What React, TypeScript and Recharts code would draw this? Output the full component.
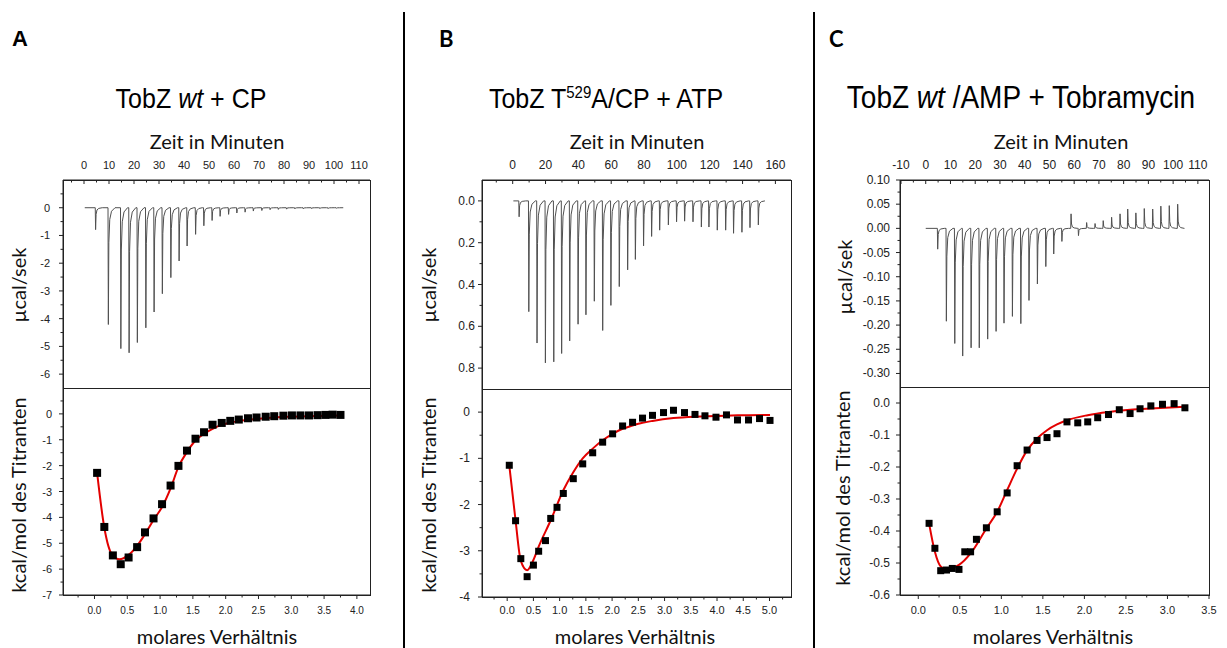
import React from "react";
import { LineChart, ComposedChart, Line, Scatter, XAxis, YAxis } from "recharts";

// ---------- Panel A: TobZ wt + CP ----------
const injTimeA = [4.5, 9.6, 14.6, 17.9, 21.2, 24.6, 27.9, 31.2, 34.6, 37.9, 41.1, 44.5, 47.8, 51.1, 54.3, 57.7, 61.0, 64.3, 67.6, 71.0, 74.3, 77.6, 80.9, 84.2, 87.6, 90.9, 94.2, 97.5, 100.8];
const injPeakA = [-0.79, -4.21, -5.08, -5.23, -4.86, -4.33, -3.76, -3.1, -2.52, -1.92, -1.38, -0.96, -0.65, -0.46, -0.31, -0.24, -0.19, -0.16, -0.12, -0.1, -0.07, -0.06, -0.05, -0.04, -0.04, -0.03, -0.03, -0.03, -0.02];
const ratioA = [0.04, 0.15, 0.28, 0.4, 0.52, 0.65, 0.77, 0.9, 1.03, 1.16, 1.28, 1.41, 1.54, 1.67, 1.8, 1.94, 2.07, 2.2, 2.34, 2.47, 2.61, 2.74, 2.88, 3.01, 3.14, 3.27, 3.4, 3.52, 3.63, 3.75];
const heatA = [-2.28, -4.37, -5.47, -5.81, -5.55, -5.15, -4.58, -4.04, -3.49, -2.77, -2.01, -1.42, -0.96, -0.71, -0.42, -0.35, -0.27, -0.22, -0.17, -0.14, -0.11, -0.09, -0.07, -0.06, -0.06, -0.06, -0.05, -0.04, -0.03, -0.04];
const fitRatioA = [0.04, 0.15, 0.27, 0.38, 0.52, 0.65, 0.77, 0.9, 1.03, 1.16, 1.28, 1.41, 1.54, 1.67, 1.8, 1.94, 2.07, 2.2, 2.47, 2.74, 3.01, 3.4, 3.75];
const fitHeatA = [-2.28, -4.4, -5.45, -5.62, -5.45, -5.1, -4.65, -4.1, -3.6, -2.88, -2.05, -1.47, -1.03, -0.77, -0.58, -0.42, -0.34, -0.28, -0.2, -0.14, -0.11, -0.08, -0.06];

// ---------- Panel B: TobZ T529A/CP + ATP ----------
const injTimeB = [3.7, 9.6, 14.6, 19.7, 24.8, 29.6, 34.5, 39.6, 44.4, 49.5, 54.6, 59.6, 64.7, 69.8, 74.5, 79.5, 84.4, 89.3, 94.6, 99.6, 104.5, 109.6, 114.7, 119.3, 124.4, 129.5, 134.3, 139.4, 144.3, 149.4];
const injPeakB = [-0.076, -0.53, -0.68, -0.775, -0.77, -0.73, -0.67, -0.59, -0.545, -0.48, -0.62, -0.5, -0.41, -0.33, -0.28, -0.215, -0.17, -0.14, -0.115, -0.1, -0.097, -0.1, -0.125, -0.125, -0.14, -0.14, -0.155, -0.15, -0.128, -0.115];
const ratioB = [0.04, 0.16, 0.26, 0.38, 0.5, 0.6, 0.73, 0.83, 0.95, 1.07, 1.26, 1.44, 1.63, 1.82, 2.01, 2.2, 2.39, 2.58, 2.77, 2.98, 3.17, 3.38, 3.58, 3.77, 3.98, 4.18, 4.39, 4.6, 4.81, 5.01];
const heatB = [-1.15, -2.35, -3.17, -3.56, -3.31, -3.01, -2.78, -2.3, -2.06, -1.76, -1.44, -1.12, -0.88, -0.65, -0.47, -0.3, -0.22, -0.13, -0.07, -0.01, 0.04, -0.01, -0.05, -0.08, -0.11, -0.06, -0.17, -0.17, -0.14, -0.18];
const fitRatioB = [0.04, 0.16, 0.26, 0.38, 0.5, 0.6, 0.83, 1.07, 1.26, 1.44, 1.63, 1.82, 2.01, 2.2, 2.39, 2.58, 2.77, 3.17, 3.58, 3.98, 4.39, 5.01];
const fitHeatB = [-1.15, -2.35, -3.22, -3.42, -3.2, -2.91, -2.34, -1.69, -1.3, -1.0, -0.79, -0.61, -0.47, -0.36, -0.29, -0.23, -0.19, -0.13, -0.1, -0.086, -0.07, -0.06];

// ---------- Panel C: TobZ wt/AMP + Tobramycin ----------
const injTimeC = [4.7, 8.2, 11.6, 14.8, 18.2, 21.5, 24.9, 28.3, 31.5, 34.9, 38.3, 41.6, 45.0, 48.4, 51.6, 54.9, 58.6, 61.6, 64.9, 68.3, 71.6, 75.0, 78.4, 81.5, 84.8, 88.2, 91.6, 94.9, 98.3, 101.7];
const injPeakC = [-0.043, -0.192, -0.238, -0.264, -0.247, -0.247, -0.229, -0.213, -0.196, -0.182, -0.197, -0.149, -0.115, -0.079, -0.053, -0.027, 0.03, -0.015, 0.012, 0.01, 0.016, 0.023, 0.03, 0.04, 0.032, 0.041, 0.04, 0.046, 0.047, 0.05];
const ratioC = [0.13, 0.2, 0.27, 0.34, 0.41, 0.49, 0.56, 0.63, 0.7, 0.82, 0.95, 1.07, 1.19, 1.31, 1.43, 1.55, 1.67, 1.79, 1.92, 2.04, 2.16, 2.29, 2.42, 2.55, 2.67, 2.8, 2.94, 3.08, 3.21];
const heatC = [-0.376, -0.454, -0.524, -0.522, -0.517, -0.52, -0.465, -0.465, -0.426, -0.39, -0.34, -0.281, -0.196, -0.147, -0.117, -0.108, -0.096, -0.059, -0.062, -0.059, -0.046, -0.036, -0.021, -0.033, -0.018, -0.009, -0.004, -0.002, -0.015];
const fitRatioC = [0.13, 0.2, 0.27, 0.34, 0.41, 0.49, 0.63, 0.82, 0.95, 1.07, 1.19, 1.31, 1.43, 1.55, 1.67, 1.79, 2.04, 2.29, 2.55, 2.8, 3.21];
const fitHeatC = [-0.376, -0.465, -0.511, -0.52, -0.516, -0.506, -0.47, -0.392, -0.34, -0.272, -0.205, -0.148, -0.111, -0.085, -0.067, -0.054, -0.038, -0.028, -0.021, -0.017, -0.012];

// ---------- ticks ----------
const timeTicksA = [-5, 0, 5, 10, 15, 20, 25, 30, 35, 40, 45, 50, 55, 60, 65, 70, 75, 80, 85, 90, 95, 100, 105, 110];
const timeMajorA = [0, 10, 20, 30, 40, 50, 60, 70, 80, 90, 100, 110];
const powTicksA = [-6, -5.5, -5, -4.5, -4, -3.5, -3, -2.5, -2, -1.5, -1, -0.5, 0, 0.5];
const powMajorA = [-6, -5, -4, -3, -2, -1, 0];
const ratioTicksA = [-0.25, 0, 0.25, 0.5, 0.75, 1, 1.25, 1.5, 1.75, 2, 2.25, 2.5, 2.75, 3, 3.25, 3.5, 3.75, 4];
const ratioMajorA = [0, 0.5, 1, 1.5, 2, 2.5, 3, 3.5, 4];
const heatTicksA = [-7, -6.5, -6, -5.5, -5, -4.5, -4, -3.5, -3, -2.5, -2, -1.5, -1, -0.5, 0, 0.5];
const heatMajorA = [-7, -6, -5, -4, -3, -2, -1, 0];

const timeTicksB = [-10, 0, 10, 20, 30, 40, 50, 60, 70, 80, 90, 100, 110, 120, 130, 140, 150, 160];
const timeMajorB = [0, 20, 40, 60, 80, 100, 120, 140, 160];
const powTicksB = [-0.8, -0.7, -0.6, -0.5, -0.4, -0.3, -0.2, -0.1, 0];
const powMajorB = [-0.8, -0.6, -0.4, -0.2, 0];
const ratioTicksB = [-0.25, 0, 0.25, 0.5, 0.75, 1, 1.25, 1.5, 1.75, 2, 2.25, 2.5, 2.75, 3, 3.25, 3.5, 3.75, 4, 4.25, 4.5, 4.75, 5, 5.25];
const ratioMajorB = [0, 0.5, 1, 1.5, 2, 2.5, 3, 3.5, 4, 4.5, 5];
const heatTicksB = [-4, -3.5, -3, -2.5, -2, -1.5, -1, -0.5, 0];
const heatMajorB = [-4, -3, -2, -1, 0];

const timeTicksC = [-10, -5, 0, 5, 10, 15, 20, 25, 30, 35, 40, 45, 50, 55, 60, 65, 70, 75, 80, 85, 90, 95, 100, 105, 110];
const timeMajorC = [-10, 0, 10, 20, 30, 40, 50, 60, 70, 80, 90, 100, 110];
const powTicksC = [-0.3, -0.275, -0.25, -0.225, -0.2, -0.175, -0.15, -0.125, -0.1, -0.075, -0.05, -0.025, 0, 0.025, 0.05, 0.075, 0.1];
const powMajorC = [-0.3, -0.25, -0.2, -0.15, -0.1, -0.05, 0, 0.05, 0.1];
const ratioTicksC = [0, 0.25, 0.5, 0.75, 1, 1.25, 1.5, 1.75, 2, 2.25, 2.5, 2.75, 3, 3.25, 3.5];
const ratioMajorC = [0, 0.5, 1, 1.5, 2, 2.5, 3, 3.5];
const heatTicksC = [-0.6, -0.55, -0.5, -0.45, -0.4, -0.35, -0.3, -0.25, -0.2, -0.15, -0.1, -0.05, 0];
const heatMajorC = [-0.6, -0.5, -0.4, -0.3, -0.2, -0.1, 0];

// shape of one injection peak (fraction of its width / fraction of its height)
const PEAK_T = [0, 0.05, 0.12, 0.25, 0.5, 1];
const PEAK_H = [0, 1, 0.3, 0.1, 0.03, 0];

const INK = "#222";
const TICK_FONT = "'Liberation Sans', Arial, sans-serif";
const LABEL_FONT = "Lato, 'Noto Sans', sans-serif";

function buildTrace(start: number, end: number, times: number[], peaks: number[], width: number) {
  const pts = [{ t: start, v: 0 }];
  times.forEach((t0, i) => {
    PEAK_T.forEach((f, j) => pts.push({ t: t0 + f * width, v: peaks[i] * PEAK_H[j] }));
  });
  pts.push({ t: end, v: 0 });
  return pts;
}

const zip = (xs: number[], ys: number[]) => xs.map((x, i) => ({ x, y: ys[i] }));

const fmtInt = (v: number) => String(Math.round(v));
const fmtAbs1 = (v: number) => Math.abs(v).toFixed(1);
const fmt1 = (v: number) => v.toFixed(1);
const fmt2 = (v: number) => v.toFixed(2);

type Side = "top" | "bottom" | "left" | "right";

function tickFn(side: Side, gap: number, majors: number[], fmt: ((v: number) => string) | null, inward: boolean, fs: number) {
  return (p: any) => {
    const v = Number(p.payload.value);
    const major = majors.some((m) => Math.abs(m - v) < 1e-6);
    const len = major ? 4 : 2.5;
    const d = inward ? 1 : -1;
    const txt = fmt && major ? fmt(v) : null;
    const tp = { fontSize: fs, fontFamily: TICK_FONT, fill: INK };
    if (side === "left") {
      const e = p.x + gap;
      return (
        <g>
          <line x1={e} x2={e + d * len} y1={p.y} y2={p.y} stroke={INK} />
          {txt && <text x={p.x} y={p.y} textAnchor="end" dominantBaseline="central" {...tp}>{txt}</text>}
        </g>
      );
    }
    if (side === "right") {
      const e = p.x - gap;
      return <line x1={e} x2={e - d * len} y1={p.y} y2={p.y} stroke={INK} />;
    }
    if (side === "top") {
      const e = p.y + gap;
      return (
        <g>
          <line x1={p.x} x2={p.x} y1={e} y2={e + d * len} stroke={INK} />
          {txt && <text x={p.x} y={p.y} textAnchor="middle" {...tp}>{txt}</text>}
        </g>
      );
    }
    const e = p.y - gap;
    return (
      <g>
        <line x1={p.x} x2={p.x} y1={e} y2={e - d * len} stroke={INK} />
        {txt && <text x={p.x} y={p.y} textAnchor="middle" dominantBaseline="central" {...tp}>{txt}</text>}
      </g>
    );
  };
}

type Cfg = {
  x0: number; x1: number; yTop: number; yMid: number; yBot: number;
  fs: number; mark: number;
  trace: { t: number; v: number }[];
  tDomain: number[]; tTicks: number[]; tMajor: number[];
  pDomain: number[]; pTicks: number[]; pMajor: number[]; pFmt: (v: number) => string; pGap: number;
  points: { x: number; y: number }[]; fit: { x: number; y: number }[];
  rDomain: number[]; rTicks: number[]; rMajor: number[]; rGap: number;
  hDomain: number[]; hTicks: number[]; hMajor: number[]; hFmt: (v: number) => string; hGap: number;
};

const LP = 60;
const RP = 12;
const TP = 30;
const BP = 30;
const AXIS_LINE = { stroke: INK, strokeWidth: 1 };

function Upper({ c }: { c: Cfg }) {
  const w = c.x1 - c.x0 + LP + RP;
  const h = c.yMid - c.yTop + TP + 5;
  return (
    <div style={{ position: "absolute", left: c.x0 - LP, top: c.yTop - TP }}>
      <LineChart width={w} height={h} data={c.trace} margin={{ top: 0, right: RP, bottom: 5, left: 0 }}>
        <XAxis xAxisId="t" orientation="top" type="number" dataKey="t" domain={c.tDomain} ticks={c.tTicks}
          allowDataOverflow height={TP} tickSize={0} tickMargin={11} tickLine={false} interval={0} axisLine={AXIS_LINE}
          tick={tickFn("top", 11, c.tMajor, fmtInt, true, c.fs)} />
        <YAxis yAxisId="l" type="number" domain={c.pDomain} ticks={c.pTicks} allowDataOverflow width={LP}
          tickSize={0} tickMargin={c.pGap} tickLine={false} interval={0} axisLine={AXIS_LINE}
          tick={tickFn("left", c.pGap, c.pMajor, c.pFmt, false, c.fs)} />
        <YAxis yAxisId="r" orientation="right" type="number" domain={c.pDomain} ticks={c.pTicks} allowDataOverflow
          width={0} tickSize={0} tickMargin={0} tickLine={false} interval={0} axisLine={AXIS_LINE}
          tick={tickFn("right", 0, c.pMajor, null, true, c.fs)} />
        <Line xAxisId="t" yAxisId="l" dataKey="v" type="linear" stroke="#505050" strokeWidth={1}
          dot={false} isAnimationActive={false} />
      </LineChart>
    </div>
  );
}

function Lower({ c }: { c: Cfg }) {
  const w = c.x1 - c.x0 + LP + RP;
  const h = c.yBot - c.yMid + 5 + BP;
  const s = c.mark;
  return (
    <div style={{ position: "absolute", left: c.x0 - LP, top: c.yMid - 5 }}>
      <ComposedChart width={w} height={h} margin={{ top: 5, right: RP, bottom: 0, left: 0 }}>
        <XAxis xAxisId="b" orientation="bottom" type="number" dataKey="x" domain={c.rDomain} ticks={c.rTicks}
          allowDataOverflow height={BP} tickSize={0} tickMargin={c.rGap} tickLine={false} interval={0} axisLine={AXIS_LINE}
          tick={tickFn("bottom", c.rGap, c.rMajor, fmt1, false, c.fs - 1)} />
        <XAxis xAxisId="t" orientation="top" type="number" domain={c.rDomain} ticks={c.rTicks} allowDataOverflow
          height={0} tickSize={0} tickMargin={0} tickLine={false} interval={0} axisLine={AXIS_LINE}
          tick={tickFn("top", 0, c.rMajor, null, true, c.fs)} />
        <YAxis yAxisId="l" type="number" domain={c.hDomain} ticks={c.hTicks} allowDataOverflow width={LP}
          tickSize={0} tickMargin={c.hGap} tickLine={false} interval={0} axisLine={AXIS_LINE}
          tick={tickFn("left", c.hGap, c.hMajor, c.hFmt, false, c.fs)} />
        <YAxis yAxisId="r" orientation="right" type="number" domain={c.hDomain} ticks={c.hTicks} allowDataOverflow
          width={0} tickSize={0} tickMargin={0} tickLine={false} interval={0} axisLine={AXIS_LINE}
          tick={tickFn("right", 0, c.hMajor, null, true, c.fs)} />
        <Scatter xAxisId="b" yAxisId="l" data={c.points} dataKey="y" isAnimationActive={false}
          shape={(p: any) => <rect x={p.cx - s / 2} y={p.cy - s / 2} width={s} height={s} fill="#000" />} />
        <Line xAxisId="b" yAxisId="l" data={c.fit} dataKey="y" type="monotone" stroke="#e30000" strokeWidth={2}
          dot={false} isAnimationActive={false} />
      </ComposedChart>
    </div>
  );
}

// plain frame drawn around both plot areas of a panel
function Frame({ c }: { c: Cfg }) {
  const box = (top: number, bottom: number): React.CSSProperties => ({
    position: "absolute", left: c.x0, top, width: c.x1 - c.x0 + 1, height: bottom - top + 1,
    border: `1px solid ${INK}`, boxSizing: "border-box", pointerEvents: "none",
  });
  return (
    <>
      <div style={box(c.yTop, c.yMid)} />
      <div style={box(c.yMid, c.yBot)} />
    </>
  );
}

const panelA: Cfg = {
  x0: 63, x1: 370, yTop: 180, yMid: 388, yBot: 595, fs: 11, mark: 8,
  trace: buildTrace(0.3, 103.7, injTimeA, injPeakA, 2.8),
  tDomain: [-8.4, 114.4], tTicks: timeTicksA, tMajor: timeMajorA,
  pDomain: [-6.5, 1], pTicks: powTicksA, pMajor: powMajorA, pFmt: fmtInt, pGap: 13,
  points: zip(ratioA, heatA), fit: zip(fitRatioA, fitHeatA),
  rDomain: [-0.48, 4.2], rTicks: ratioTicksA, rMajor: ratioMajorA, rGap: 15,
  hDomain: [-7, 1], hTicks: heatTicksA, hMajor: heatMajorA, hFmt: fmtInt, hGap: 11,
};

const panelB: Cfg = {
  x0: 482, x1: 791, yTop: 180, yMid: 389, yBot: 597, fs: 12, mark: 7,
  trace: buildTrace(0.4, 153.6, injTimeB, injPeakB, 4.2),
  tDomain: [-18.7, 169.5], tTicks: timeTicksB, tMajor: timeMajorB,
  pDomain: [-0.9, 0.1], pTicks: powTicksB, pMajor: powMajorB, pFmt: fmtAbs1, pGap: 7,
  points: zip(ratioB, heatB), fit: zip(fitRatioB, fitHeatB),
  rDomain: [-0.48, 5.41], rTicks: ratioTicksB, rMajor: ratioMajorB, rGap: 13,
  hDomain: [-4, 0.5], hTicks: heatTicksB, hMajor: heatMajorB, hFmt: fmtInt, hGap: 12,
};

const panelC: Cfg = {
  x0: 900, x1: 1209, yTop: 180, yMid: 387, yBot: 595, fs: 12, mark: 7,
  trace: buildTrace(0, 104.6, injTimeC, injPeakC, 2.8),
  tDomain: [-10.4, 114.5], tTicks: timeTicksC, tMajor: timeMajorC,
  pDomain: [-0.328, 0.1], pTicks: powTicksC, pMajor: powMajorC, pFmt: fmt2, pGap: 10,
  points: zip(ratioC, heatC), fit: zip(fitRatioC, fitHeatC),
  rDomain: [-0.22, 3.5], rTicks: ratioTicksC, rMajor: ratioMajorC, rGap: 15,
  hDomain: [-0.6, 0.05], hTicks: heatTicksC, hMajor: heatMajorC, hFmt: fmt1, hGap: 10,
};

const centered = (x: number, y: number): React.CSSProperties => ({
  position: "absolute", left: x, top: y, transform: "translate(-50%, -50%)", whiteSpace: "nowrap", lineHeight: 1,
});
const rotated = (x: number, y: number): React.CSSProperties => ({
  position: "absolute", left: x, top: y, transform: "translate(-50%, -50%) rotate(-90deg)", whiteSpace: "nowrap",
  fontFamily: LABEL_FONT, fontSize: 20, color: "#111", lineHeight: 1,
});
const axisTitle = (x: number, y: number): React.CSSProperties => ({
  ...centered(x, y), fontFamily: LABEL_FONT, fontSize: 20, color: "#111",
});
const titleStyle = (x: number, y: number, fs: number): React.CSSProperties => ({
  ...centered(x, y), fontFamily: TICK_FONT, fontSize: fs, color: "#000",
  transform: "translate(-50%, -50%) scaleY(1.12)",
});

export default function App() {
  return (
    <div style={{ position: "absolute", left: 0, top: 0, width: 1227, height: 648, background: "#fff", overflow: "hidden" }}>
      <div style={{ position: "absolute", left: 403, top: 12, width: 2, height: 636, background: "#000" }} />
      <div style={{ position: "absolute", left: 813, top: 12, width: 2, height: 636, background: "#000" }} />

      <div style={{ position: "absolute", left: 12, top: 28, fontFamily: TICK_FONT, fontWeight: 700, fontSize: 22, lineHeight: 1 }}>A</div>
      <div style={{ position: "absolute", left: 439, top: 28, fontFamily: LABEL_FONT, fontWeight: 700, fontSize: 22, lineHeight: 1 }}>B</div>
      <div style={{ position: "absolute", left: 829, top: 28, fontFamily: LABEL_FONT, fontWeight: 700, fontSize: 22, lineHeight: 1 }}>C</div>

      <div style={titleStyle(191, 98, 25)}>TobZ <i>wt</i> + CP</div>
      <div style={titleStyle(606, 98, 25)}>TobZ T<sup style={{ fontSize: 15 }}>529</sup>A/CP + ATP</div>
      <div style={titleStyle(1021, 98, 28)}>TobZ <i>wt</i> /AMP + Tobramycin</div>

      <div style={axisTitle(217, 141)}>Zeit in Minuten</div>
      <div style={axisTitle(637, 141)}>Zeit in Minuten</div>
      <div style={axisTitle(1061, 141)}>Zeit in Minuten</div>

      <div style={axisTitle(217, 636)}>molares Verhältnis</div>
      <div style={axisTitle(635, 636)}>molares Verhältnis</div>
      <div style={axisTitle(1053, 636)}>molares Verhältnis</div>

      <div style={rotated(18, 285)}>µcal/sek</div>
      <div style={rotated(428, 285)}>µcal/sek</div>
      <div style={rotated(844, 277)}>µcal/sek</div>
      <div style={rotated(18, 495)}>kcal/mol des Titranten</div>
      <div style={rotated(428, 495)}>kcal/mol des Titranten</div>
      <div style={rotated(842, 488)}>kcal/mol des Titranten</div>

      <Upper c={panelA} />
      <Lower c={panelA} />
      <Upper c={panelB} />
      <Lower c={panelB} />
      <Upper c={panelC} />
      <Lower c={panelC} />

      <Frame c={panelA} />
      <Frame c={panelB} />
      <Frame c={panelC} />
    </div>
  );
}
